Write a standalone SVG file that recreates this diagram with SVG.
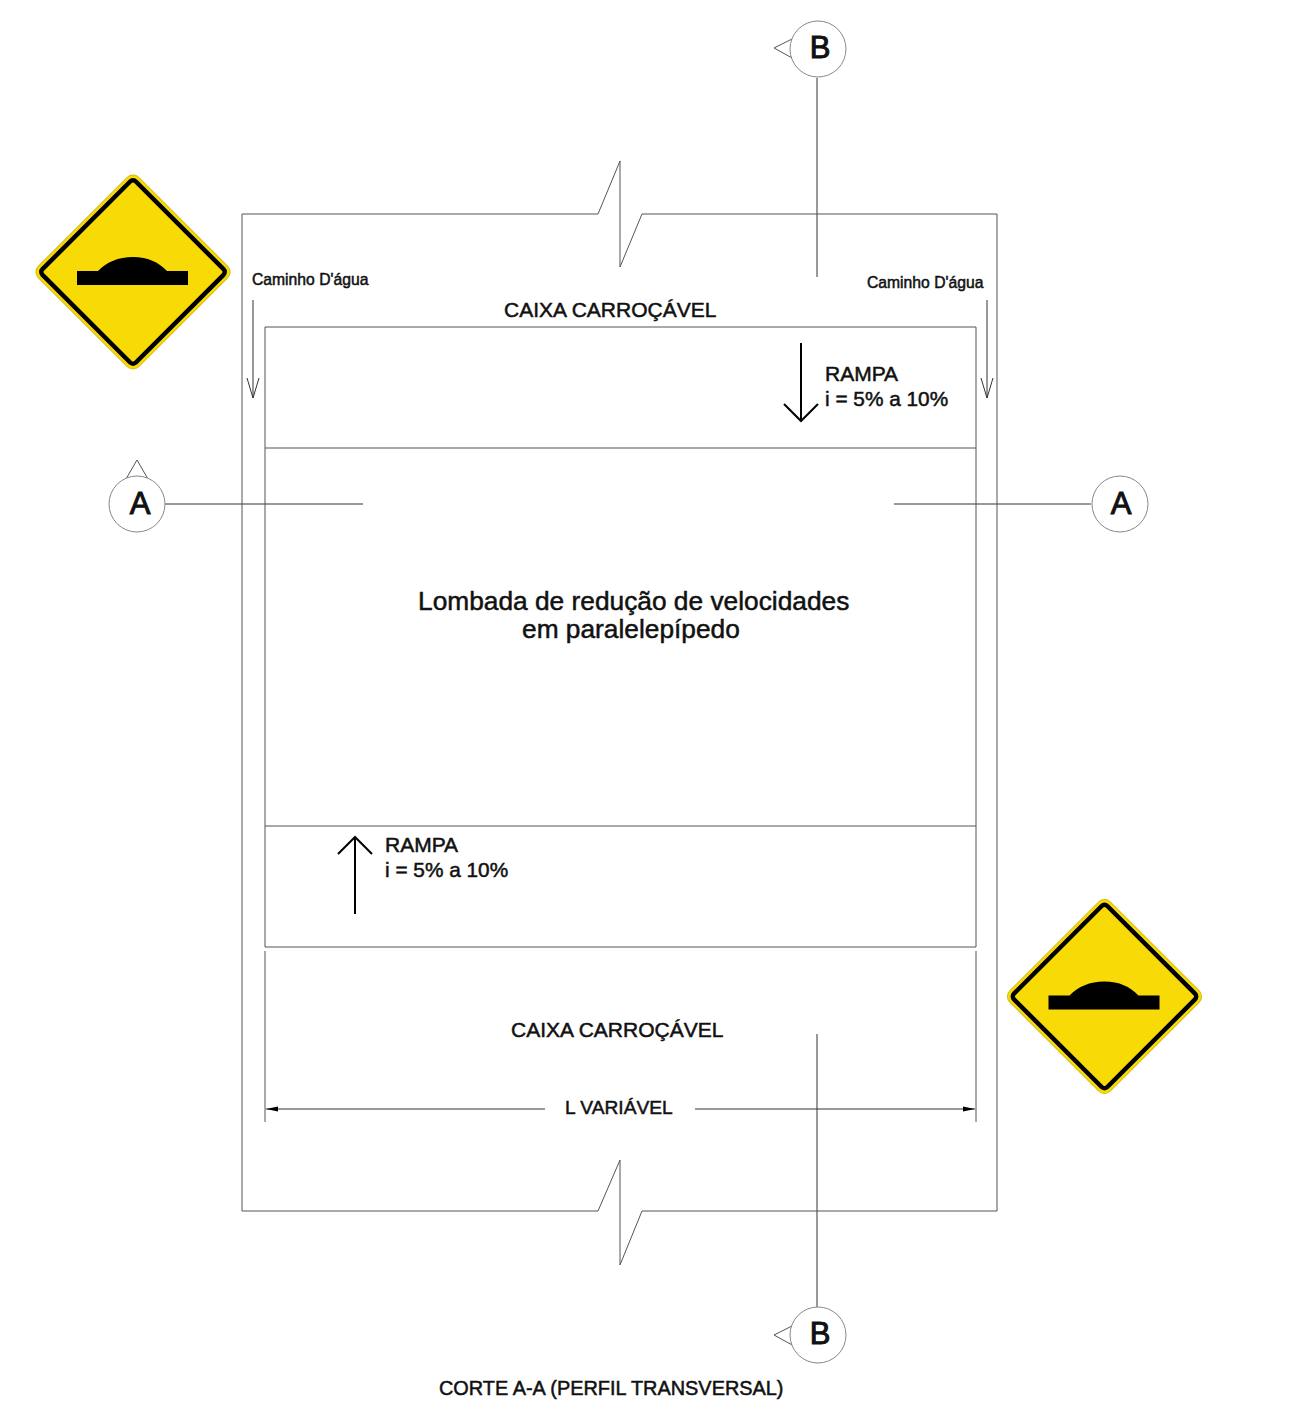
<svg xmlns="http://www.w3.org/2000/svg" xmlns:xlink="http://www.w3.org/1999/xlink" width="1306" height="1402" viewBox="0 0 1306 1402">
<style>
text{font-family:"Liberation Sans",Arial,sans-serif;fill:#111;stroke:#111;stroke-width:.5}
.l{fill:none;stroke:#555;stroke-width:1}
.t{fill:none;stroke:#333;stroke-width:1}
.a{fill:none;stroke:#000;stroke-width:2}
.c{fill:#fff;stroke:#888;stroke-width:1}
.s{font-size:15.7px}
.m{font-size:21px}
.r{font-size:20.8px}
.d{font-size:19.2px}
.b{font-size:26.3px}
.k{font-size:31px;text-anchor:middle;stroke-width:1}
</style>
<defs>
<g id="sign">
<rect x="-71" y="-71" width="142" height="142" rx="8" transform="rotate(45)" fill="#f7da06" stroke="#d6bd10" stroke-width="1"/>
<rect x="-66" y="-66" width="132" height="132" rx="4" transform="rotate(45)" fill="none" stroke="#000" stroke-width="4.500"/>
<path d="M-56 -1H-35C-26 -10 -15 -15 0 -15C15 -15 25 -10 34 -1H55V13H-56Z" fill="#000"/>
</g>
</defs>
<rect width="1306" height="1402" fill="#fff"/>
<g id="connectors">
<path class="t" d="M817 78V277M817 1034V1307M165 504H363M894 504H1091"/>
<path class="l" d="M265 327H976V947H265ZM265 448H976M265 826H976M265 951V1122M976 951V1122"/>
<path class="l" d="M598 214H242V1211H598L620 1160V1211M620 1265V1211M620 1265L642 1211H997V214H642L620 267V214M620 161V214M620 161L598 214"/>
<path class="t" d="M253 300V398M247 378L253 398L259 378M987 300V398M981 378L987 398L993 378"/>
<path class="a" d="M801 343V421M784 404L801 421L818 404M355 914V837M338 854L355 837L372 854"/>
<path class="t" d="M266 1109H545M695 1109H975"/>
<path d="M266 1109L278 1106.500V1111.500ZM975 1109L963 1106.500V1111.500Z" fill="#000"/>
</g>
<g id="sign-left"><use xlink:href="#sign" href="#sign" x="133" y="272"/></g>
<g id="sign-right"><use xlink:href="#sign" href="#sign" x="1104.500" y="996.500"/></g>
<g id="marker-b-top"><path class="l" d="M794 38L774 48L794 59"/><circle class="c" cx="818" cy="49" r="28"/><text class="k" x="820" y="58">B</text></g>
<g id="marker-b-bottom"><path class="l" d="M794 1325L774 1335L794 1346"/><circle class="c" cx="818" cy="1335" r="28"/><text class="k" x="820" y="1344">B</text></g>
<g id="marker-a-left"><path class="l" d="M126 479L137 460L148 479"/><circle class="c" cx="137" cy="504" r="28"/><text class="k" x="140" y="514">A</text></g>
<g id="marker-a-right"><circle class="c" cx="1120" cy="504" r="28"/><text class="k" x="1121" y="514">A</text></g>
<g id="labels">
<text class="s" x="252" y="285">Caminho D'água</text>
<text class="s" x="867" y="288">Caminho D'água</text>
<text class="m" x="504" y="317">CAIXA CARROÇÁVEL</text>
<text class="m" x="825" y="381">RAMPA</text>
<text class="r" x="825" y="406">i = 5% a 10%</text>
<text class="b" x="418" y="610">Lombada de redução de velocidades</text>
<text class="b" x="522" y="638">em paralelepípedo</text>
<text class="m" x="385" y="852">RAMPA</text>
<text class="r" x="385" y="877">i = 5% a 10%</text>
<text class="m" x="511" y="1037">CAIXA CARROÇÁVEL</text>
<text class="d" x="565" y="1114">L VARIÁVEL</text>
<text class="d" style="font-size:19.9px" x="439" y="1395">CORTE A-A (PERFIL TRANSVERSAL)</text>
</g>
</svg>
